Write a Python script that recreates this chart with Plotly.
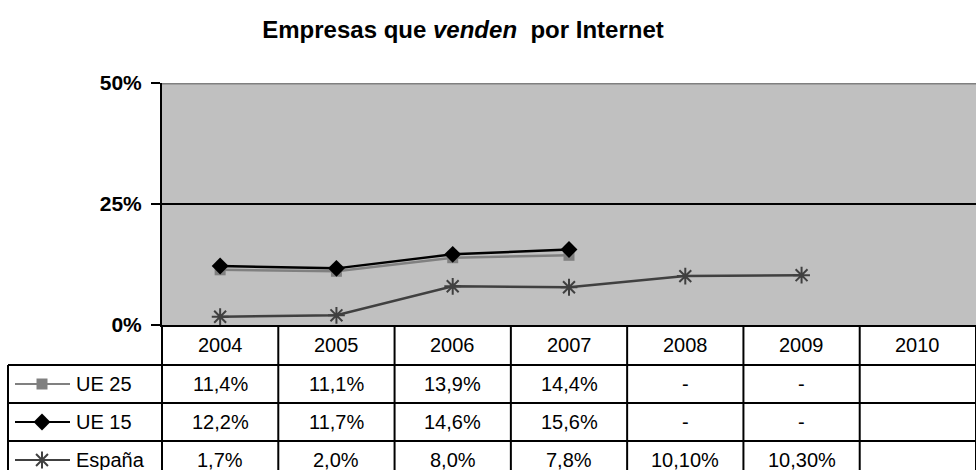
import plotly.graph_objects as go

# ---- data ----
years = ["2004", "2005", "2006", "2007", "2008", "2009", "2010"]
series_names = ["UE 25", "UE 15", "España"]
ue25 = [11.4, 11.1, 13.9, 14.4, None, None, None]
ue15 = [12.2, 11.7, 14.6, 15.6, None, None, None]
espana = [1.7, 2.0, 8.0, 7.8, 10.1, 10.3, None]
ue25_labels = ["11,4%", "11,1%", "13,9%", "14,4%", "-", "-", ""]
ue15_labels = ["12,2%", "11,7%", "14,6%", "15,6%", "-", "-", ""]
espana_labels = ["1,7%", "2,0%", "8,0%", "7,8%", "10,10%", "10,30%", ""]
y_tickvals = [0, 25, 50]
y_ticktext = ["0%", "25%", "50%"]
title_html = "<b>Empresas que <i>venden</i>  por Internet</b>"

# ---- geometry / style ----
W, H = 976, 470
PL, PR, PT, PB = 162, 976, 83, 325
ROW_LINES = [365, 403, 441]
ROW_CENTERS = [345, 384, 422, 460]
TABLE_L = 8
FONT = "Liberation Sans, Arial, sans-serif"
FS = 20


def py(pix):
    """pixel row -> paper y (margins are zero)"""
    return 1 - pix / H


styles = [
    dict(line=dict(color="#808080", width=2.5),
         marker=dict(symbol="square", size=11, color="#808080")),
    dict(line=dict(color="#000000", width=2.5),
         marker=dict(symbol="diamond", size=13, color="#000000")),
    dict(line=dict(color="#404040", width=2.5),
         marker=dict(symbol="asterisk-open", size=14, color="#404040",
                     line=dict(color="#404040", width=2))),
]
values = [ue25, ue15, espana]
labels = [ue25_labels, ue15_labels, espana_labels]

fig = go.Figure()
for name, vals, st in zip(series_names, values, styles):
    fig.add_trace(go.Scatter(x=years, y=vals, mode="lines+markers", name=name,
                             line=st["line"], marker=st["marker"],
                             xaxis="x", yaxis="y", cliponaxis=False,
                             showlegend=False, connectgaps=False))

shapes = []
annotations = []

# plot background
shapes.append(dict(type="rect", xref="x domain", yref="y domain", x0=0, x1=1, y0=0, y1=1,
                   fillcolor="#C0C0C0", line=dict(width=0), layer="below"))
# top border line at 50%
shapes.append(dict(type="line", xref="x domain", yref="y", x0=0, x1=1, y0=50, y1=50,
                   line=dict(color="#808080", width=3), layer="above"))

# table grid
ncat = len(years)
colw = (PR - PL) / ncat
for i in range(ncat + 1):
    xx = PL + i * colw
    shapes.append(dict(type="line", xref="x2", yref="y2", x0=xx, x1=xx, y0=PB, y1=H + 10,
                       line=dict(color="black", width=2)))
shapes.append(dict(type="line", xref="x2", yref="y2", x0=TABLE_L, x1=TABLE_L,
                   y0=ROW_LINES[0], y1=H + 10, line=dict(color="black", width=2)))
for yy in ROW_LINES:
    shapes.append(dict(type="line", xref="x2", yref="y2", x0=TABLE_L, x1=W, y0=yy, y1=yy,
                       line=dict(color="black", width=2)))

# header years (category index on the x axis)
for ci, yr in enumerate(years):
    annotations.append(dict(x=ci, y=py(ROW_CENTERS[0]), xref="x", yref="paper", text=yr,
                            showarrow=False, xanchor="center", yanchor="middle",
                            font=dict(family=FONT, size=FS, color="black")))
# rows
for r, (name, labs, st) in enumerate(zip(series_names, labels, styles)):
    yc = ROW_CENTERS[r + 1]
    for ci, lab in enumerate(labs):
        if lab:
            annotations.append(dict(x=ci, y=py(yc), xref="x", yref="paper", text=lab,
                                    showarrow=False, xanchor="center", yanchor="middle",
                                    font=dict(family=FONT, size=FS, color="black")))
    annotations.append(dict(x=74, y=yc, xref="x2", yref="y2", text=name,
                            showarrow=False, xanchor="left", yanchor="middle",
                            font=dict(family=FONT, size=FS, color="black")))
    shapes.append(dict(type="line", xref="x2", yref="y2", x0=15, x1=70, y0=yc, y1=yc,
                       line=dict(color=st["line"]["color"], width=2)))
    fig.add_trace(go.Scatter(x=[42], y=[yc], mode="markers", marker=st["marker"],
                             xaxis="x2", yaxis="y2", showlegend=False, cliponaxis=False,
                             hoverinfo="skip"))

fig.update_layout(
    template="none",
    width=W, height=H,
    margin=dict(l=0, r=0, t=0, b=0, pad=0),
    paper_bgcolor="white",
    plot_bgcolor="rgba(0,0,0,0)",
    font=dict(family=FONT, color="black"),
    title=dict(text=title_html, x=463 / W, y=1 - 30 / H, xanchor="center", yanchor="middle",
               xref="container", yref="container",
               font=dict(family=FONT, size=24, color="black")),
    xaxis=dict(domain=[PL / W, PR / W], type="category", categoryorder="array",
               categoryarray=years, range=[-0.5, ncat - 0.5], showticklabels=False,
               ticks="", showgrid=False, zeroline=False, showline=True,
               linecolor="black", linewidth=2, anchor="y", fixedrange=True,
               automargin=False),
    yaxis=dict(domain=[1 - PB / H, 1 - PT / H], range=[0, 50], tickvals=y_tickvals,
               ticktext=y_ticktext, ticks="outside", ticklen=9, tickwidth=2,
               tickcolor="black", showline=True, linecolor="black", linewidth=2,
               showgrid=True, gridcolor="black", gridwidth=2, zeroline=False,
               ticklabelstandoff=5, automargin=False,
               tickfont=dict(family=FONT, size=21, color="black", weight="bold"),
               anchor="x", fixedrange=True),
    xaxis2=dict(domain=[0, 1], range=[0, W], visible=False, anchor="y2", fixedrange=True),
    yaxis2=dict(domain=[0, 1], range=[H, 0], visible=False, anchor="x2", fixedrange=True),
    shapes=shapes,
    annotations=annotations,
)

fig.write_html("out.html",
               config={"displayModeBar": False},
               post_script="document.body.style.margin='0';document.body.style.padding='0';"
                           "document.body.style.overflow='hidden';")
